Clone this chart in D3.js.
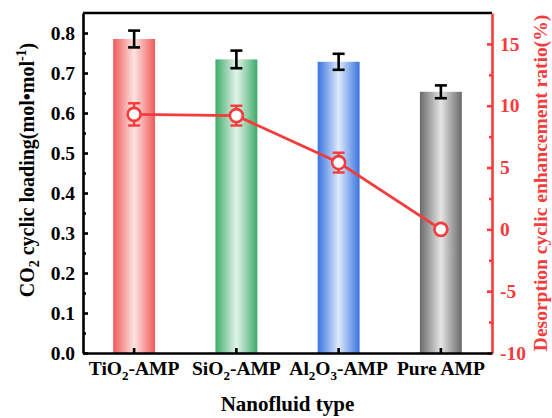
<!DOCTYPE html>
<html><head><meta charset="utf-8">
<script src="https://cdn.jsdelivr.net/npm/d3@7"></script>
<style>body{margin:0;background:#fff}svg{display:block}</style>
</head><body>
<script>
// ---- data ----
const categories = ["TiO2-AMP", "SiO2-AMP", "Al2O3-AMP", "Pure AMP"];
const categoryLabels = [
  [["TiO",""],["2","sub"],["-AMP",""]],
  [["SiO",""],["2","sub"],["-AMP",""]],
  [["Al",""],["2","sub"],["O",""],["3","sub"],["-AMP",""]],
  [["Pure AMP",""]]
];
const loading = [0.785, 0.734, 0.728, 0.653];
const loadingErr = [0.021, 0.022, 0.020, 0.016];
const enhancement = [9.3, 9.2, 5.4, 0.0];
const enhancementErr = [0.9, 0.8, 0.8, 0.0];
const leftTicks = [0.0, 0.1, 0.2, 0.3, 0.4, 0.5, 0.6, 0.7, 0.8];
const leftMinor = [0.05, 0.15, 0.25, 0.35, 0.45, 0.55, 0.65, 0.75];
const rightTicks = [-10, -5, 0, 5, 10, 15];
const rightMinor = [-7.5, -2.5, 2.5, 7.5, 12.5];
const barColors = [
  ["#f05a5a", "#fde4e4"],
  ["#3fab6a", "#e3f4ea"],
  ["#3a74e0", "#dfeafb"],
  ["#6a6a6a", "#e4e4e4"]
];

// ---- layout ----
const W = 552, H = 418;
const m = {left: 83, right: 60, top: 13, bottom: 65};
const iw = W - m.left - m.right, ih = H - m.top - m.bottom;
const red = "#f53b3b";
const font = "'Liberation Serif','Times New Roman',serif";

const svg = d3.select("body").append("svg").attr("width", W).attr("height", H)
  .style("font-family", font);
const defs = svg.append("defs");
barColors.forEach((c, i) => {
  const g = defs.append("linearGradient").attr("id", "g" + i)
    .attr("x1", "0%").attr("x2", "100%").attr("y1", "0%").attr("y2", "0%");
  g.append("stop").attr("offset", "0%").attr("stop-color", c[0]);
  g.append("stop").attr("offset", "50%").attr("stop-color", c[1]);
  g.append("stop").attr("offset", "100%").attr("stop-color", c[0]);
});

const g = svg.append("g").attr("transform", `translate(${m.left},${m.top})`);

const x = d3.scaleBand().domain(categories).range([0, iw]).paddingInner(0.59).paddingOuter(0.295);
const y = d3.scaleLinear().domain([0, 0.85]).range([ih, 0]);
const y2 = d3.scaleLinear().domain([-10, 17.5]).range([ih, 0]);

// bars
g.selectAll("rect.bar").data(categories).join("rect").attr("class", "bar")
  .attr("x", d => x(d)).attr("width", x.bandwidth())
  .attr("y", (d, i) => y(loading[i])).attr("height", (d, i) => ih - y(loading[i]))
  .attr("fill", (d, i) => `url(#g${i})`);

// bar error bars
const cap = 6;
categories.forEach((d, i) => {
  const cx = x(d) + x.bandwidth() / 2;
  const eg = g.append("g").attr("stroke", "#000").attr("stroke-width", 2.6);
  eg.append("line").attr("x1", cx).attr("x2", cx)
    .attr("y1", y(loading[i] + loadingErr[i])).attr("y2", y(loading[i] - loadingErr[i]));
  [loading[i] + loadingErr[i], loading[i] - loadingErr[i]].forEach(v => {
    eg.append("line").attr("x1", cx - cap).attr("x2", cx + cap).attr("y1", y(v)).attr("y2", y(v));
  });
});

// line series
const cxs = categories.map(d => x(d) + x.bandwidth() / 2);
g.append("path").datum(enhancement)
  .attr("d", d3.line().x((d, i) => cxs[i]).y(d => y2(d)))
  .attr("fill", "none").attr("stroke", red).attr("stroke-width", 2.8);
enhancement.forEach((v, i) => {
  if (enhancementErr[i] > 0) {
    const eg = g.append("g").attr("stroke", red).attr("stroke-width", 2.4);
    eg.append("line").attr("x1", cxs[i]).attr("x2", cxs[i])
      .attr("y1", y2(v + enhancementErr[i])).attr("y2", y2(v - enhancementErr[i]));
    [v + enhancementErr[i], v - enhancementErr[i]].forEach(e => {
      eg.append("line").attr("x1", cxs[i] - 6).attr("x2", cxs[i] + 6).attr("y1", y2(e)).attr("y2", y2(e));
    });
  }
});
g.selectAll("circle.pt").data(enhancement).join("circle").attr("class", "pt")
  .attr("cx", (d, i) => cxs[i]).attr("cy", d => y2(d)).attr("r", 6.5)
  .attr("fill", "#fff").attr("stroke", red).attr("stroke-width", 2.6);

// frame top
g.append("line").attr("x1", 0).attr("x2", iw).attr("y1", 0).attr("y2", 0)
  .attr("stroke", "#000").attr("stroke-width", 2.6);

// left axis
const la = g.append("g").call(d3.axisLeft(y).tickValues(leftTicks).tickFormat(d3.format(".1f"))
  .tickSizeInner(-5).tickSizeOuter(0).tickPadding(8));
la.append("g").call(d3.axisLeft(y).tickValues(leftMinor).tickFormat("").tickSizeInner(-3).tickSizeOuter(0))
  .select(".domain").remove();
la.selectAll("path,line").attr("stroke", "#000").attr("stroke-width", 2.6);
la.selectAll("text").attr("font-size", 19.5).attr("font-weight", "bold").attr("fill", "#000")
  .attr("font-family", font);

// right axis
const ra = g.append("g").attr("transform", `translate(${iw},0)`)
  .call(d3.axisRight(y2).tickValues(rightTicks).tickFormat(d => String(d))
    .tickSizeInner(-5).tickSizeOuter(0).tickPadding(8));
ra.append("g").call(d3.axisRight(y2).tickValues(rightMinor).tickFormat("").tickSizeInner(-3).tickSizeOuter(0))
  .select(".domain").remove();
ra.selectAll("path,line").attr("stroke", red).attr("stroke-width", 2.6);
ra.selectAll("text").attr("font-size", 19.5).attr("font-weight", "bold").attr("fill", red)
  .attr("font-family", font);

// bottom axis
const ba = g.append("g").attr("transform", `translate(0,${ih})`)
  .call(d3.axisBottom(x).tickSizeInner(-5).tickSizeOuter(0).tickPadding(10).tickFormat(""));
ba.selectAll("path,line").attr("stroke", "#000").attr("stroke-width", 2.6);
ba.selectAll(".tick").each(function(d, i) {
  const t = d3.select(this).append("text").attr("y", 22).attr("text-anchor", "middle")
    .attr("font-size", 19.5).attr("font-weight", "bold").attr("fill", "#000").attr("font-family", font);
  let prevSub = false;
  categoryLabels[i].forEach(([s, k], j) => {
    const isSub = k === "sub";
    const ts = t.append("tspan").text(s);
    if (isSub) ts.attr("font-size", 13).attr("dy", 5);
    else ts.attr("dy", prevSub ? -5 : 0);
    prevSub = isSub;
  });
});

// axis titles
svg.append("text").attr("x", m.left + iw / 2).attr("y", 411).attr("text-anchor", "middle")
  .attr("font-size", 21).attr("font-weight", "bold").text("Nanofluid type");

const lt = svg.append("text").attr("transform", `translate(34,${m.top + ih / 2 - 13}) rotate(-90)`)
  .attr("text-anchor", "middle").attr("font-size", 20).attr("font-weight", "bold");
lt.append("tspan").text("CO");
lt.append("tspan").attr("font-size", 14).attr("dy", 5).text("2");
lt.append("tspan").attr("dy", -5).text(" cyclic loading(mol•mol");
lt.append("tspan").attr("font-size", 14).attr("dy", -8).text("-1");
lt.append("tspan").attr("dy", 8).text(")");

svg.append("text").attr("transform", `translate(547,${m.top + ih / 2}) rotate(-90)`)
  .attr("text-anchor", "middle").attr("font-size", 19.5).attr("font-weight", "bold").attr("fill", red)
  .text("Desorption cyclic enhancement ratio(%)");
</script>
</body></html>
